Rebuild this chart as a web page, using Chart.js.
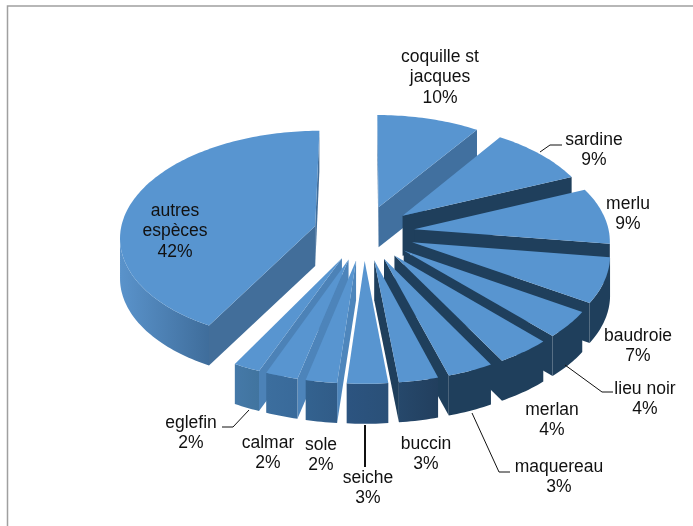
<!DOCTYPE html>
<html>
<head>
<meta charset="utf-8">
<title>Espèces</title>
<script src="https://cdn.jsdelivr.net/npm/chart.js@4"></script>
<style>
  html, body { margin: 0; padding: 0; background: #fff; }
  canvas { display: block; }
</style>
</head>
<body>
<canvas id="pie" width="693" height="526"></canvas>
<script>
const categories = ['coquille st jacques', 'sardine', 'merlu', 'baudroie', 'lieu noir', 'merlan',
  'maquereau', 'buccin', 'seiche', 'sole', 'calmar', 'eglefin', 'autres espèces'];
const shares = [9.5, 9.1, 8.6, 6.8, 4, 4, 3.4, 2.9, 3, 2.3, 2.4, 2, 42];

// how each label is broken over lines, and where its first line sits
const labelLines = [['coquille st', 'jacques', '10%'], ['sardine', '9%'], ['merlu', '9%'], ['baudroie', '7%'],
  ['lieu noir', '4%'], ['merlan', '4%'], ['maquereau', '3%'], ['buccin', '3%'], ['seiche', '3%'],
  ['sole', '2%'], ['calmar', '2%'], ['eglefin', '2%'], ['autres', 'espèces', '42%']];
const labelX = [440, 594, 628, 638, 645, 552, 559, 426, 368, 321, 268, 191, 175];
const labelY = [57, 140, 204, 336, 389, 410, 467, 444, 478, 445, 443, 423, 211];

const leaders = [
  [[540, 152], [550, 145], [562, 145]],
  [[565, 365], [602, 392], [613, 392]],
  [[472, 413], [499, 472], [510, 472]],
  [[365, 425], [365, 467]],
  [[249, 410], [233, 427], [222, 427]]
];

// wall colours per slice: outer wall at its right end, at its left end, cut face
const wallRight = ['#41709f', '#1f3f5c', '#1f3f5c', '#1f3f5c', '#1f3f5c', '#1f3f5c', '#1f3f5c', '#223f5e', '#2a5078', '#315c88', '#396a9a', '#41749f', '#3f6d9b'];
const wallLeft = ['#41709f', '#1f3f5c', '#1f3f5c', '#1f3f5c', '#1f3f5c', '#1f3f5c', '#1f3f5c', '#26486b', '#2c5480', '#33628f', '#3c6e9e', '#4579a8', '#5a93cb'];
const cutColor = ['#41709f', '#1f3f5c', '#1f3f5c', '#1f3f5c', '#1f3f5c', '#1f3f5c', '#1f3f5c', '#1f3f5c', '#2a5078', '#4e86bc', '#4d84ba', '#4c82b7', '#426e9a'];
const topColor = '#5895d0';

// perspective of the pie plane
const view = { cx: 364, cy: 232.8, a: 195, b: 105.5, p: 0.095, explode: 0.26, depth: 40 };

function project(X, Y) {
  const d = 1 - view.p * Y;
  return [view.cx + view.a * X / d, view.cy + view.b * Y / d];
}

function poly(ctx, pts, color) {
  ctx.beginPath();
  pts.forEach((p, i) => i ? ctx.lineTo(p[0], p[1]) : ctx.moveTo(p[0], p[1]));
  ctx.closePath();
  ctx.fillStyle = color;
  ctx.fill();
}

function drawSlice(ctx, arc, i) {
  // chart.js angles start at 3 o'clock, the pie reads from 12 o'clock
  const t0 = arc.startAngle + Math.PI / 2, t1 = arc.endAngle + Math.PI / 2, mid = (t0 + t1) / 2;
  const ox = Math.sin(mid) * view.explode, oy = -Math.cos(mid) * view.explode;
  const steps = Math.max(4, Math.ceil((t1 - t0) / 0.02));
  const rim = [];
  for (let k = 0; k <= steps; k++) {
    const t = t0 + (t1 - t0) * k / steps;
    rim.push(project(ox + Math.sin(t), oy - Math.cos(t)));
  }
  const apex = project(ox, oy);
  const down = p => [p[0], p[1] + view.depth];
  const m = rim[steps >> 1];

  // cut faces, only where the top face lies above the edge
  [rim[0], rim[steps]].forEach(e => {
    const cross = (e[0] - apex[0]) * (m[1] - apex[1]) - (e[1] - apex[1]) * (m[0] - apex[0]);
    if (cross * (e[0] - apex[0]) < 0) poly(ctx, [apex, e, down(e), down(apex)], cutColor[i]);
  });

  // outer wall, the part that runs right to left is the part facing us
  const front = rim.filter((p, k) => (k < steps && rim[k + 1][0] < p[0]) || (k > 0 && p[0] < rim[k - 1][0]));
  if (front.length > 1) {
    const xs = front.map(p => p[0]);
    const g = ctx.createLinearGradient(Math.min(...xs), 0, Math.max(...xs), 0);
    g.addColorStop(0, wallLeft[i]);
    g.addColorStop(1, wallRight[i]);
    poly(ctx, [...front, ...front.map(down).reverse()], g);
  }

  poly(ctx, [apex, ...rim], topColor);
}

const pie3d = {
  id: 'pie3d',
  beforeDatasetsDraw(chart) {
    const ctx = chart.ctx, arcs = chart.getDatasetMeta(0).data;
    // back slices first
    const order = arcs.map((a, i) => i).sort((u, v) => {
      const my = a => -Math.cos((a.startAngle + a.endAngle) / 2 + Math.PI / 2);
      return my(arcs[u]) - my(arcs[v]);
    });
    ctx.save();
    order.forEach(i => drawSlice(ctx, arcs[i], i));
    ctx.restore();
    return false;
  },
  afterDraw(chart) {
    const ctx = chart.ctx;
    ctx.save();
    // frame, only top and left show
    ctx.strokeStyle = '#a0a0a0';
    ctx.lineWidth = 1.5;
    ctx.beginPath();
    ctx.moveTo(693, 6);
    ctx.lineTo(7.5, 6);
    ctx.lineTo(7.5, 526);
    ctx.stroke();
    // leader lines
    ctx.strokeStyle = '#111';
    leaders.forEach(l => {
      ctx.lineWidth = l.length === 2 ? 2 : 1;
      ctx.beginPath();
      l.forEach((p, i) => i ? ctx.lineTo(p[0], p[1]) : ctx.moveTo(p[0], p[1]));
      ctx.stroke();
    });
    // labels
    ctx.fillStyle = '#111';
    ctx.font = '17.5px "Liberation Sans"';
    ctx.textAlign = 'center';
    ctx.textBaseline = 'middle';
    labelLines.forEach((lines, i) => lines.forEach((s, k) => ctx.fillText(s, labelX[i], labelY[i] + k * 20.5)));
    ctx.restore();
  }
};

new Chart(document.getElementById('pie'), {
  type: 'pie',
  data: { labels: categories, datasets: [{ data: shares }] },
  options: {
    responsive: false,
    animation: false,
    plugins: { legend: { display: false }, tooltip: { enabled: false } }
  },
  plugins: [pie3d]
});
</script>
</body>
</html>
